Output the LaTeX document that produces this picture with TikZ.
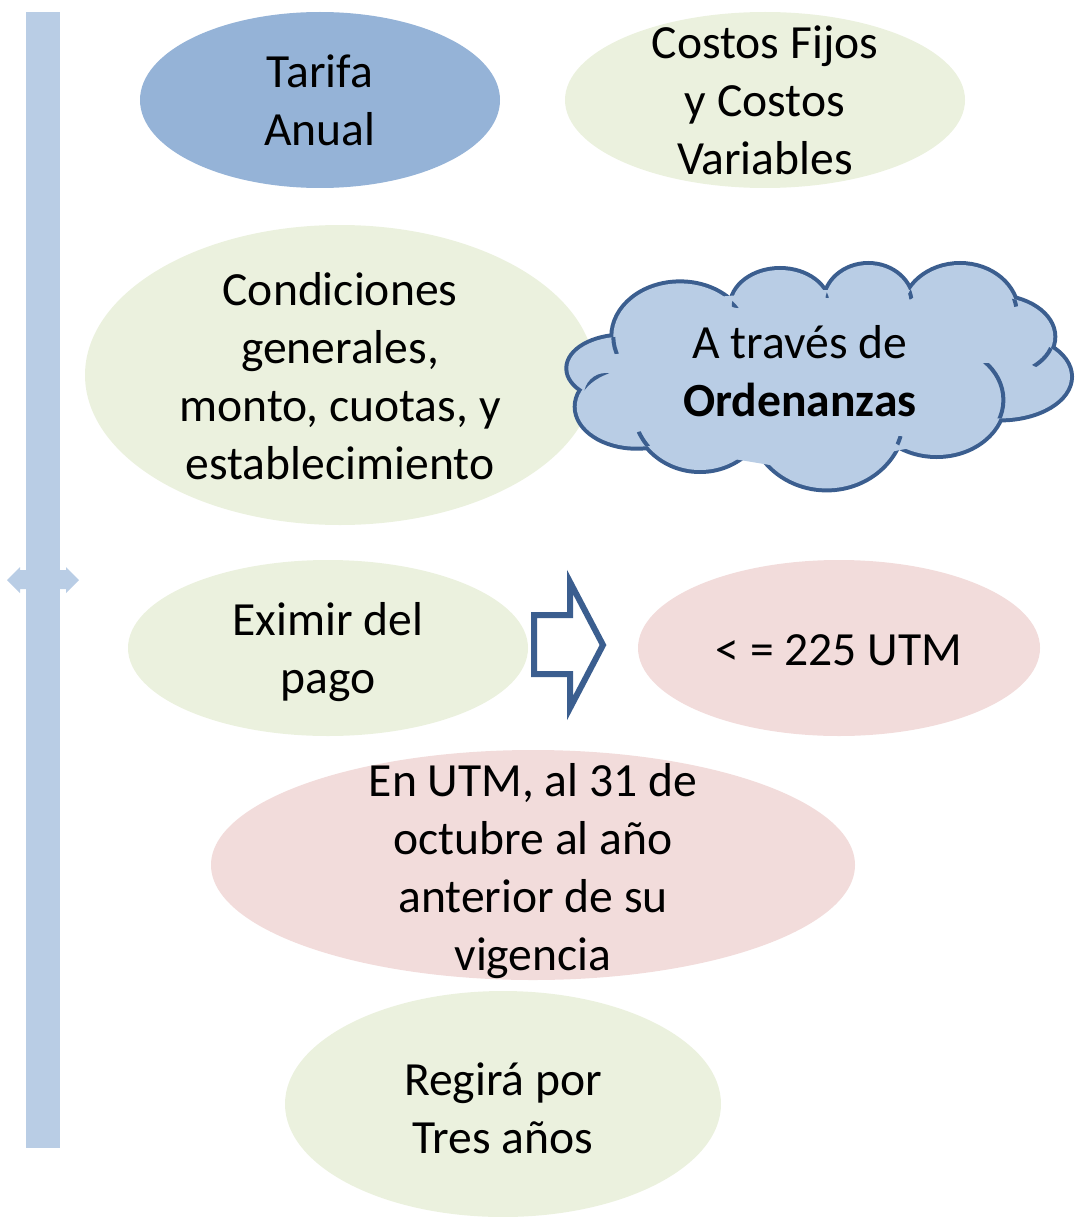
\documentclass[tikz,border=0pt]{standalone}
\usepackage{fontspec}
\setmainfont{Carlito}
\usetikzlibrary{shapes.geometric}
\definecolor{barblue}{HTML}{B9CDE5}
\definecolor{darkfill}{HTML}{95B3D7}
\definecolor{greenfill}{HTML}{EBF1DE}
\definecolor{pinkfill}{HTML}{F2DCDB}
\definecolor{cloudfill}{HTML}{B9CDE5}
\definecolor{strokeblue}{HTML}{3B5E8F}
\def\pA{(623.3,368.3) ellipse [x radius=55, y radius=31.7]}
\def\pB{(680,336.7) ellipse [x radius=66.7, y radius=53.3]}
\def\pC{(780,306.7) ellipse [x radius=48.3, y radius=36.7]}
\def\pD{(868.3,303.3) ellipse [x radius=43.3, y radius=38.3]}
\def\pE{(960,313.3) ellipse [x radius=56.7, y radius=48.3]}
\def\pF{(993.3,336.7) ellipse [x radius=60, y radius=40]}
\def\pG{(1000,376.7) ellipse [x radius=70, y radius=41.7]}
\def\pH{(936.7,400) ellipse [x radius=66.7, y radius=55]}
\def\pI{(826.7,416.7) ellipse [x radius=76.7, y radius=71.7]}
\def\pJ{(700,406.7) ellipse [x radius=66.7, y radius=63.3]}
\def\pK{(636.7,406.7) ellipse [x radius=60, y radius=40]}
\newcommand\cloudtick[4]{% #1 drawn puff, #2 clip puff, #3 centre, #4 radius
  \begin{scope}\clip #3 circle [radius=#4]; \clip #2; \draw[tick] #1; \end{scope}}
\begin{document}
\begin{tikzpicture}[x=1pt,y=-1pt,
  txt/.style={align=center, font=\fontsize{47.6}{58}\selectfont, inner sep=0pt, text=black},
  ell/.style={ellipse, inner sep=0pt, draw=none},
  puff/.style={draw=strokeblue, line width=8},
  tick/.style={draw=strokeblue, line width=4}]
\useasboundingbox (0,0) rectangle (1076,1217);

% left bar with double arrow
\fill[barblue] (26,12) rectangle (60,1148);
\fill[barblue] (7,580) -- (20,567) -- (20,570) -- (66,570) -- (66,567) -- (79,580)
  -- (66,593) -- (66,589) -- (20,589) -- (20,593) -- cycle;

% ellipses
\node[ell, fill=darkfill, minimum width=360, minimum height=176] (tarifa) at (320,100) {};
\node[txt] at (tarifa.center) {Tarifa\\Anual};

\node[ell, fill=greenfill, minimum width=400, minimum height=176] (costos) at (765,100) {};
\node[txt] at (costos.center) {Costos Fijos\\y Costos\\Variables};

\node[ell, fill=greenfill, minimum width=510, minimum height=300] (cond) at (340,375) {};
\node[txt] at ([yshift=-1]cond.center) {Condiciones\\generales,\\monto, cuotas, y\\establecimiento};

\node[ell, fill=greenfill, minimum width=400, minimum height=176] (eximir) at (328,648) {};
\node[txt] at ([yshift=-4]eximir.center) {Eximir del\\pago};

\node[ell, fill=pinkfill, minimum width=402, minimum height=176] (utm) at (839,648) {};
\node[txt] at ([yshift=-2]utm.center) {< = 225 UTM};

\node[ell, fill=pinkfill, minimum width=644, minimum height=230] (enutm) at (533,865) {};
\node[txt] at ([yshift=-6]enutm.center) {En UTM, al 31 de\\octubre al año\\anterior de su\\vigencia};

\node[ell, fill=greenfill, minimum width=436, minimum height=226] (regira) at (503,1104) {};
\node[txt] at ([yshift=-4]regira.center) {Regirá por\\Tres años};

% block arrow
\draw[line width=6, draw=strokeblue, fill=white, line join=miter]
  (534,615) -- (570,615) -- (570,582) -- (603,645) -- (570,708) -- (570,674) -- (534,674) -- cycle;

% cloud: outline of union of puffs
\foreach \p in {\pA,\pB,\pC,\pD,\pE,\pF,\pG,\pH,\pI,\pJ,\pK}
  \draw[puff] \p;
\foreach \p in {\pA,\pB,\pC,\pD,\pE,\pF,\pG,\pH,\pI,\pJ,\pK}
  \fill[cloudfill] \p;
\fill[cloudfill] (620,360) -- (680,300) -- (800,290) -- (950,290) -- (1050,360)
  -- (950,440) -- (800,470) -- (680,450) -- (620,410) -- cycle;
% inner ticks: arcs of one puff running on inside its neighbour
\cloudtick{\pB}{\pA}{(615,340)}{14}
\cloudtick{\pB}{\pC}{(738,292)}{16}
\cloudtick{\pC}{\pD}{(827,288)}{10}
\cloudtick{\pD}{\pE}{(907,290)}{10}
\cloudtick{\pE}{\pF}{(1014,297)}{10}
\cloudtick{\pF}{\pG}{(1042,350)}{18}
\cloudtick{\pH}{\pG}{(985,395)}{32}
\cloudtick{\pI}{\pH}{(899,450)}{14}
\cloudtick{\pI}{\pJ}{(755,460)}{12}
\cloudtick{\pJ}{\pK}{(643,445)}{14}
\cloudtick{\pK}{\pA}{(606,395)}{22}
\node[txt, inner sep=4pt] (cloud) at (800,371) {A través de\\\textbf{Ordenanzas}};
\end{tikzpicture}
\end{document}
